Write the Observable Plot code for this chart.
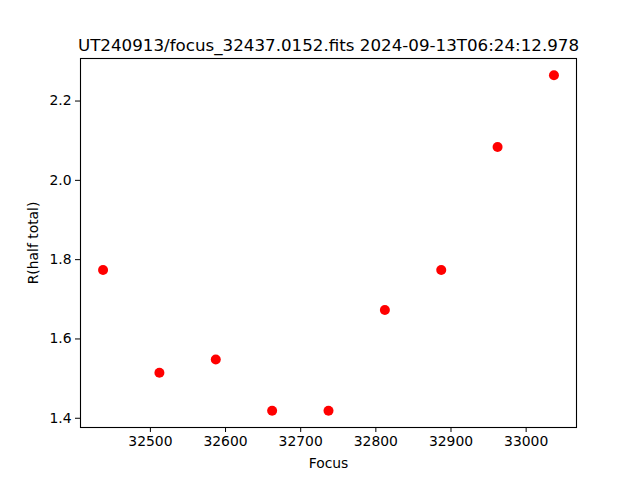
<!DOCTYPE html>
<html>
<head>
<meta charset="utf-8">
<script src="https://cdn.jsdelivr.net/npm/d3@7"></script>
<script src="https://cdn.jsdelivr.net/npm/@observablehq/plot@0.6"></script>
<style>
  html, body { margin: 0; padding: 0; background: #fff; }
  svg { display: block; }
</style>
</head>
<body>
<div id="chart"></div>
<script>
const titleText = "UT240913/focus_32437.0152.fits 2024-09-13T06:24:12.978";
const focus = [32437, 32512, 32587, 32662, 32737, 32812, 32887, 32962, 33037];
const rHalf = [1.774, 1.515, 1.548, 1.419, 1.419, 1.673, 1.774, 2.084, 2.265];
const xTicks = [32500, 32600, 32700, 32800, 32900, 33000];
const yTicks = [1.4, 1.6, 1.8, 2.0, 2.2];

const data = focus.map((f, i) => ({focus: f, r: rHalf[i]}));

const xMin = d3.min(focus), xMax = d3.max(focus);
const yMin = d3.min(rHalf), yMax = d3.max(rHalf);
const xPad = (xMax - xMin) * 0.05, yPad = (yMax - yMin) * 0.05;

const chart = Plot.plot({
  width: 640,
  height: 480,
  marginLeft: 80,
  marginRight: 64,
  marginTop: 58,
  marginBottom: 53,
  style: {fontFamily: "DejaVu Sans", fontSize: "13.9px", color: "#000", background: "#fff"},
  x: {domain: [xMin - xPad, xMax + xPad]},
  y: {domain: [yMin - yPad, yMax + yPad]},
  marks: [
    Plot.frame({stroke: "#000", strokeWidth: 1.1}),
    Plot.axisX({ticks: xTicks, tickFormat: d => String(d), tickSize: 5, tickPadding: 4, fontSize: 13.9,
      label: "Focus", labelAnchor: "center", labelArrow: "none", labelOffset: 40, stroke: "#000"}),
    Plot.axisY({ticks: yTicks, tickFormat: d => d.toFixed(1), tickSize: 5, tickPadding: 4, fontSize: 13.9,
      label: "R(half total)", labelAnchor: "center", labelArrow: "none", labelOffset: 52, stroke: "#000"}),
    Plot.dot(data, {x: "focus", y: "r", r: 5, fill: "red", stroke: "none"}),
    Plot.text([titleText], {text: d => d, frameAnchor: "top", lineAnchor: "bottom", dy: -8, fontSize: 16.7, fill: "#000"})
  ]
});
document.getElementById("chart").appendChild(chart);
</script>
</body>
</html>
